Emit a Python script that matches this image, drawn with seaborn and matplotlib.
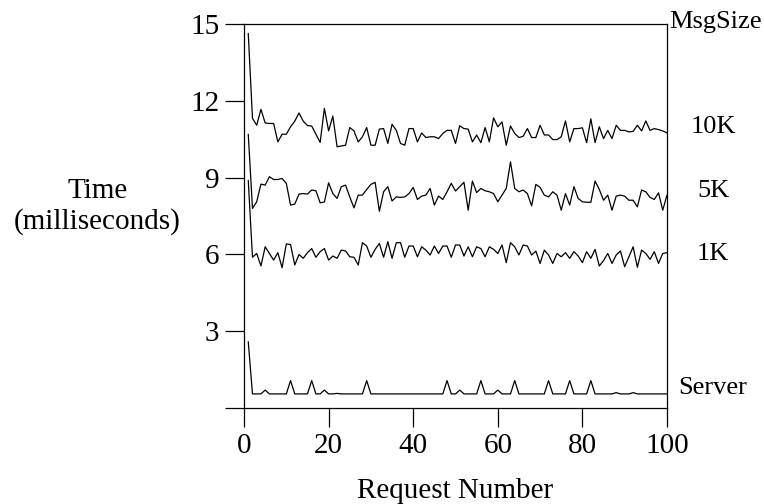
import numpy as np
import pandas as pd
import matplotlib
matplotlib.use("Agg")
import matplotlib.pyplot as plt
import seaborn as sns

# request numbers 1..100
requests = list(range(1, 101))

msg_10k = [14.64, 11.32, 11.05, 11.67, 11.14, 11.12, 11.12, 10.40, 10.70, 10.70,
           10.99, 11.21, 11.53, 11.21, 11.04, 11.02, 10.70, 10.38, 11.71, 10.83,
           11.41, 10.21, 10.24, 10.27, 10.96, 10.83, 10.40, 10.60, 10.96, 10.27,
           10.27, 10.90, 10.92, 10.34, 11.09, 10.85, 10.34, 10.27, 10.92, 10.92,
           10.40, 10.75, 10.57, 10.60, 10.60, 10.53, 10.73, 10.85, 10.85, 10.34,
           11.03, 10.92, 10.90, 10.40, 10.67, 10.37, 10.96, 10.40, 11.34, 10.99,
           11.18, 10.27, 11.02, 10.73, 10.57, 10.62, 10.92, 10.57, 10.57, 11.05,
           10.67, 10.67, 10.49, 10.49, 10.60, 11.22, 10.40, 10.92, 10.92, 10.95,
           10.37, 11.30, 10.37, 10.99, 10.53, 10.85, 10.53, 11.05, 10.85, 10.85,
           10.79, 10.81, 11.05, 10.83, 11.22, 10.85, 10.92, 10.88, 10.83, 10.75]

msg_5k = [10.70, 7.80, 8.06, 8.75, 8.71, 9.04, 8.93, 8.93, 8.97, 8.78,
          7.93, 7.97, 8.36, 8.38, 8.36, 8.52, 8.49, 8.02, 8.05, 8.80,
          8.38, 8.19, 8.65, 8.71, 8.25, 7.82, 8.32, 8.32, 8.54, 8.74,
          8.82, 7.69, 8.45, 8.65, 8.09, 8.25, 8.23, 8.25, 8.38, 8.62,
          8.15, 8.28, 8.32, 8.58, 7.93, 8.28, 8.15, 8.45, 8.78, 8.48,
          8.65, 8.82, 7.73, 8.87, 8.42, 8.58, 8.49, 8.45, 8.38, 8.06,
          8.32, 8.58, 9.62, 8.58, 8.45, 8.52, 8.38, 7.90, 8.74, 8.62,
          8.32, 8.25, 8.45, 8.32, 7.73, 8.38, 7.93, 8.65, 8.19, 8.06,
          8.04, 8.04, 8.87, 8.54, 8.12, 8.32, 7.73, 8.28, 8.32, 8.28,
          8.12, 8.12, 7.86, 8.52, 8.45, 8.23, 8.15, 8.41, 7.73, 8.32]

msg_1k = [8.90, 5.89, 6.04, 5.55, 6.30, 6.04, 5.78, 6.07, 5.48, 6.41,
          6.39, 5.59, 6.00, 5.85, 6.07, 6.23, 5.89, 6.11, 6.23, 5.78,
          5.94, 5.85, 6.17, 6.14, 5.91, 5.89, 5.59, 6.46, 6.33, 5.89,
          6.20, 6.43, 5.89, 6.50, 5.85, 6.46, 6.46, 5.89, 6.33, 6.33,
          5.91, 6.30, 6.17, 5.98, 6.33, 6.04, 6.33, 6.33, 5.89, 6.37,
          6.37, 5.94, 6.30, 5.91, 6.30, 6.23, 5.91, 6.30, 6.20, 6.04,
          6.37, 5.68, 6.46, 6.30, 5.98, 6.37, 6.33, 5.98, 6.13, 5.65,
          6.17, 5.98, 5.65, 6.04, 5.91, 6.07, 5.85, 6.11, 5.94, 5.68,
          6.11, 5.85, 6.20, 5.55, 5.76, 6.04, 5.65, 5.98, 6.14, 5.52,
          5.91, 6.30, 5.50, 6.17, 6.04, 5.81, 6.11, 5.65, 6.04, 6.07]

server = [2.59, 0.55, 0.55, 0.55, 0.70, 0.55, 0.55, 0.55, 0.55, 0.55,
          1.07, 0.55, 0.55, 0.55, 0.55, 1.07, 0.55, 0.55, 0.70, 0.55,
          0.55, 0.57, 0.55, 0.55, 0.55, 0.55, 0.55, 0.55, 1.07, 0.55,
          0.55, 0.55, 0.55, 0.55, 0.55, 0.55, 0.55, 0.55, 0.55, 0.55,
          0.55, 0.55, 0.55, 0.55, 0.55, 0.55, 0.55, 1.07, 0.55, 0.55,
          0.70, 0.55, 0.55, 0.55, 0.55, 1.07, 0.55, 0.55, 0.55, 0.70,
          0.55, 0.55, 0.55, 1.07, 0.55, 0.55, 0.55, 0.55, 0.55, 0.55,
          0.55, 1.07, 0.55, 0.55, 0.55, 0.55, 1.07, 0.55, 0.55, 0.55,
          0.55, 1.07, 0.55, 0.55, 0.55, 0.55, 0.55, 0.60, 0.55, 0.55,
          0.55, 0.60, 0.55, 0.55, 0.55, 0.55, 0.55, 0.55, 0.55, 0.55]

series_names = ["10K", "5K", "1K", "Server"]
label_y = [10.98, 8.5, 6.0, 0.78]

# long table for seaborn
df = pd.DataFrame({
    "request": requests * 4,
    "time": msg_10k + msg_5k + msg_1k + server,
    "series": sum([[name] * len(requests) for name in series_names], []),
})

sns.set_style("ticks")
plt.rcParams["font.family"] = ["Liberation Serif", "DejaVu Serif"]
plt.rcParams.update({
    "text.color": "black",
    "axes.labelcolor": "black",
    "xtick.color": "black",
    "ytick.color": "black",
    "axes.edgecolor": "black",
})

fig = plt.figure(figsize=(7.64, 5.04), dpi=100)
ax = fig.add_axes([0.3194, 0.1905, 0.873 - 0.3194, 0.952 - 0.1905])

sns.lineplot(data=df, x="request", y="time", hue="series", units="series",
             estimator=None, palette=["black"] * 4, linewidth=0.9,
             legend=False, ax=ax)

ax.set_xlim(0, 100)
ax.set_ylim(0, 15)
ax.set_xticks([0, 20, 40, 60, 80, 100])
ax.set_yticks([0, 3, 6, 9, 12, 15])
ax.set_yticklabels(["", "3", "6", "9", "12", "15"])
ax.tick_params(direction="out", length=13.7, width=0.9, color="black",
               labelcolor="black", labelsize=21, pad=4)
for s in ax.spines.values():
    s.set_visible(True)
    s.set_linewidth(0.9)
    s.set_color("black")

ax.set_xlabel("Request Number", fontsize=21, labelpad=14, color="black")
ax.set_ylabel("")
ax.text(-0.347, 0.526, "Time\n(milliseconds)", transform=ax.transAxes,
        ha="center", va="center", fontsize=21, linespacing=1.2,
        color="black")

# right-hand labels
for name, yv in zip(series_names, label_y):
    ax.text(110.9, yv, name, ha="center", va="center", fontsize=19,
            color="black", clip_on=False)
ax.text(111.5, 15.1, "MsgSize", ha="center", va="center", fontsize=19,
        color="black", clip_on=False)

fig.savefig("out.png", dpi=100)
